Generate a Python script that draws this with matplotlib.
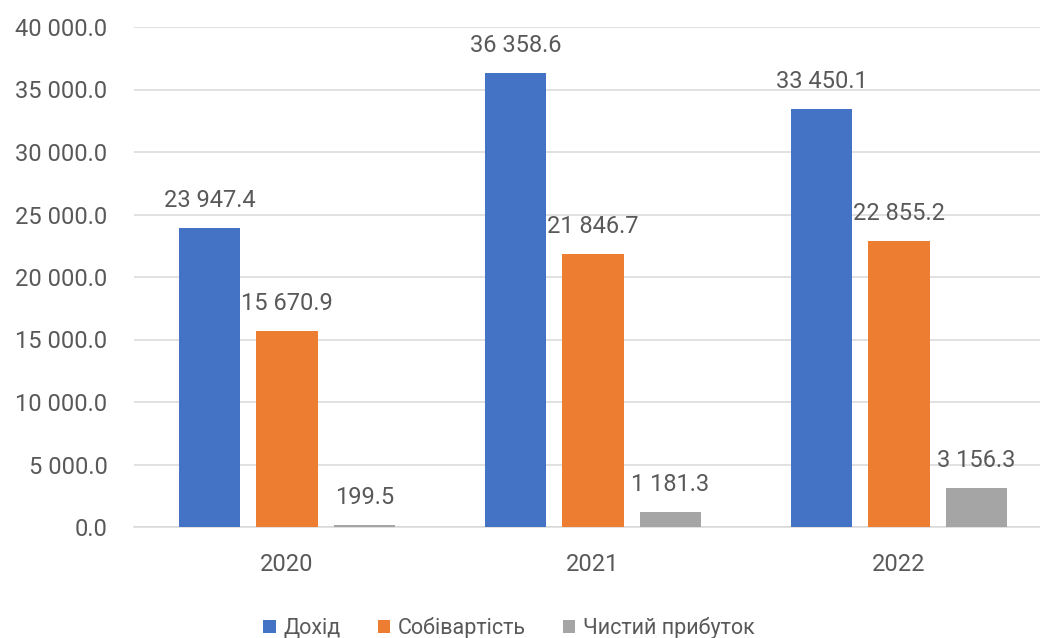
import matplotlib.pyplot as plt
import numpy as np

years = ['2020', '2021', '2022']
dokhid = [23947.4, 36358.6, 33450.1]
sobivartist = [15670.9, 21846.7, 22855.2]
prybutok = [199.5, 1181.3, 3156.3]
series_names = ['Дохід', 'Собівартість', 'Чистий прибуток']
colors = ['#4472C4', '#ED7D31', '#A5A5A5']
y_ticks = [0, 5000, 10000, 15000, 20000, 25000, 30000, 35000, 40000]

text_color = '#595959'
grid_color = '#d9d9d9'

plt.rcParams['font.family'] = ['Roboto', 'DejaVu Sans']


def fmt(v):
    return '{:,.1f}'.format(v).replace(',', ' ')


fig = plt.figure(figsize=(10.4, 6.38), dpi=100)
ax = fig.add_axes([134 / 1040, 111 / 638, 918 / 1040, 500 / 638])

x = np.arange(len(years))
offset = 0.253
width = 0.2
for i, (vals, name) in enumerate(zip([dokhid, sobivartist, prybutok], series_names)):
    pos = x + (i - 1) * offset
    bars = ax.bar(pos, vals, width=width, color=colors[i], label=name, zorder=3)
    for xp, v in zip(pos, vals):
        ax.annotate(fmt(v), (xp, v), xytext=(0, 15), textcoords='offset points',
                    ha='center', va='baseline', fontsize=17, color=text_color)

ax.set_xlim(-0.5, 2.5)
ax.set_ylim(0, 40000)
ax.set_xticks(x)
ax.set_xticklabels(years)
ax.set_yticks(y_ticks)
ax.set_yticklabels([fmt(t) for t in y_ticks])
ax.tick_params(axis='both', length=0, labelsize=17, labelcolor=text_color)
ax.tick_params(axis='y', pad=19)
ax.tick_params(axis='x', pad=19)

ax.yaxis.grid(True, color=grid_color, linewidth=1.1, zorder=0)
for s in ['top', 'right', 'left']:
    ax.spines[s].set_visible(False)
ax.spines['bottom'].set_color(grid_color)
ax.spines['bottom'].set_linewidth(1.1)

fig.legend(loc='center', bbox_to_anchor=(509 / 1040, 10 / 638), ncol=3, frameon=False,
           fontsize=15.5, labelcolor=text_color, handlelength=0.6, handleheight=0.6,
           handletextpad=0.35, columnspacing=1.7)

fig.savefig('out.png', dpi=100)
